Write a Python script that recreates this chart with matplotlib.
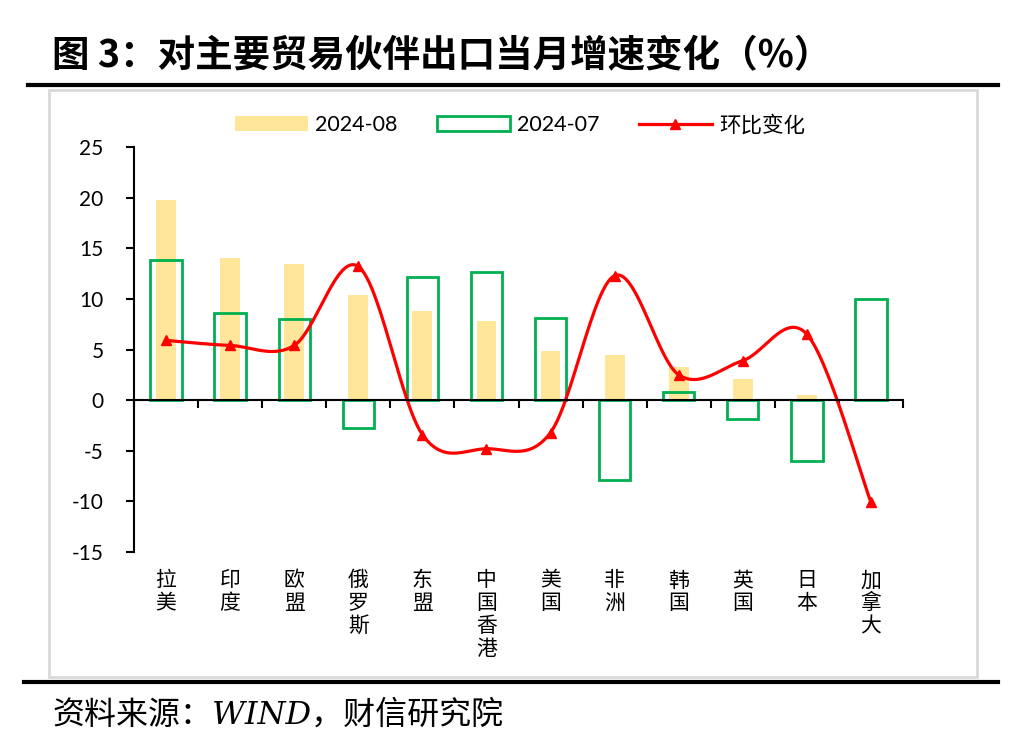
import matplotlib
matplotlib.use("Agg")
import matplotlib.pyplot as plt
import matplotlib.transforms as mtransforms
from matplotlib.patches import Rectangle, Patch
from matplotlib.lines import Line2D
import numpy as np

plt.rcParams['font.family'] = ['Lato', 'Noto Sans CJK SC', 'DejaVu Sans']
plt.rcParams['axes.unicode_minus'] = False

regions = ['拉美', '印度', '欧盟', '俄罗斯', '东盟', '中国香港', '美国', '非洲', '韩国', '英国', '日本', '加拿大']
aug = [19.8, 14.0, 13.4, 10.4, 8.8, 7.8, 4.9, 4.5, 3.3, 2.1, 0.5, 0.0]
jul = [13.8, 8.6, 8.0, -2.8, 12.2, 12.7, 8.1, -7.9, 0.8, -1.9, -6.0, 10.0]
mom = [5.9, 5.4, 5.4, 13.2, -3.4, -4.8, -3.2, 12.3, 2.5, 3.9, 6.5, -10.1]
yticks = [-15, -10, -5, 0, 5, 10, 15, 20, 25]

YELLOW = '#FFE699'
GREEN = '#00B050'
RED = '#FF0000'


def smooth(xs, ys, n=30):
    # Excel-style smoothed line (Catmull-Rom as cubic Bezier)
    p = np.column_stack([xs, ys]).astype(float)
    p = np.vstack([p[0], p, p[-1]])
    out = []
    t = np.linspace(0, 1, n)[:, None]
    for i in range(1, len(p) - 2):
        p0, p3 = p[i], p[i + 1]
        c1 = p0 + (p[i + 1] - p[i - 1]) / 6
        c2 = p3 - (p[i + 2] - p[i]) / 6
        seg = (1 - t) ** 3 * p0 + 3 * (1 - t) ** 2 * t * c1 + 3 * (1 - t) * t ** 2 * c2 + t ** 3 * p3
        out.append(seg if i == 1 else seg[1:])
    out = np.vstack(out)
    return out[:, 0], out[:, 1]


fig = plt.figure(figsize=(10.11, 7.45), dpi=100)
W, H = 1011, 745

# frame decorations
fig.add_artist(Line2D([28 / W, 998 / W], [1 - 85 / H, 1 - 85 / H], color='black', lw=3, transform=fig.transFigure))
fig.add_artist(Line2D([24 / W, 998 / W], [1 - 682 / H, 1 - 682 / H], color='black', lw=3, transform=fig.transFigure))
fig.add_artist(Rectangle((49 / W, 1 - 677 / H), 928 / W, 587 / H, fill=False, edgecolor='#D9D9D9', lw=2,
                         transform=fig.transFigure))

fig.text(52 / W, 1 - 56 / H, '图 3：对主要贸易伙伴出口当月增速变化（%）', fontsize=27, fontweight='bold',
         family=['Noto Sans CJK SC'], va='center', ha='left')
fig.text(52 / W, 1 - 715 / H, '资料来源：WIND，财信研究院', fontsize=23, style='italic',
         family=['DejaVu Serif', 'Noto Sans CJK SC'], va='center', ha='left')

ax = fig.add_axes([134 / W, 1 - 552 / H, 769 / W, 405 / H])
x = np.arange(len(regions))

ax.bar(x, aug, width=0.31, color=YELLOW, zorder=2)
ax.bar(x, jul, width=0.49, facecolor='none', edgecolor=GREEN, linewidth=2, zorder=3)
sx, sy = smooth(x, mom)
ax.plot(sx, sy, color=RED, lw=2.3, zorder=4, solid_capstyle='round')
ax.plot(x, mom, linestyle='none', marker='^', color=RED, markersize=7, zorder=5)

ax.set_xlim(-0.5, len(regions) - 0.5)
ax.set_ylim(-15, 25)
ax.set_yticks(yticks)
ax.set_yticklabels([str(v) for v in yticks], fontsize=15)
ax.tick_params(axis='y', direction='out', length=6, width=1.5, pad=16)

ax.set_xticks(np.arange(len(regions) + 1) - 0.5)
ax.set_xticklabels([])
ax.tick_params(axis='x', direction='out', length=6, width=1.5)

for s in ['top', 'right']:
    ax.spines[s].set_visible(False)
ax.spines['left'].set_linewidth(1.5)
ax.spines['bottom'].set_linewidth(1.5)
ax.spines['bottom'].set_position(('data', 0))
ax.spines['bottom'].set_zorder(6)

trans = mtransforms.blended_transform_factory(ax.transData, ax.transAxes)
for i, name in enumerate(regions):
    ax.text(i, -0.043, '\n'.join(name), transform=trans, ha='center', va='top', fontsize=15,
            family=['Noto Sans CJK SC'], linespacing=1.05)

handles = [
    Patch(facecolor=YELLOW, edgecolor='none'),
    Patch(facecolor='none', edgecolor=GREEN, linewidth=2),
    Line2D([0], [0], color=RED, lw=2.3, marker='^', markersize=7),
]
fig.legend(handles, ['2024-08', '2024-07', '环比变化'], loc='center', bbox_to_anchor=(520 / W, 1 - 125 / H),
           ncol=3, frameon=False, fontsize=15.5, handlelength=3.4, handleheight=0.7, handletextpad=0.35,
           columnspacing=1.8)

fig.savefig('out.png', dpi=100)
